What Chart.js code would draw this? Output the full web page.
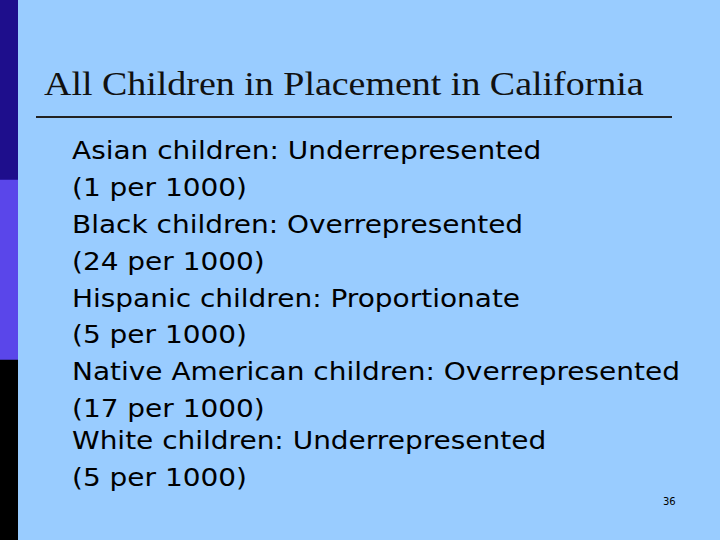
<!DOCTYPE html>
<html><head><meta charset="utf-8">
<script src="https://cdn.jsdelivr.net/npm/chart.js@4"></script>
<style>
html,body{margin:0;padding:0;width:720px;height:540px;overflow:hidden;background:#99ccff;}
#bar{position:absolute;left:0;top:0;width:18px;height:540px;}
#title{position:absolute;left:44px;top:66px;font-family:"Liberation Serif",serif;font-size:33px;color:#111;white-space:nowrap;transform:scaleX(1.15);transform-origin:0 0;}
#rule{position:absolute;left:36px;top:116px;width:636px;height:2px;background:#222;}
#body{position:absolute;left:72px;top:133px;font-family:"DejaVu Sans",sans-serif;font-size:24px;color:#000;transform:scaleX(1.165);transform-origin:0 0;}
#body div{height:36.9px;line-height:36px;white-space:nowrap;}
#pg{position:absolute;left:663px;top:496px;font-family:"DejaVu Sans",sans-serif;font-size:10px;}
</style></head><body>
<div id="bar"><canvas id="c"></canvas></div>
<div id="title">All Children in Placement in California</div>
<div id="rule"></div>
<div id="body"></div>
<div id="pg">36</div>
<script>
const lines = ["Asian children: Underrepresented","(1 per 1000)","Black children: Overrepresented","(24 per 1000)","Hispanic children: Proportionate","(5 per 1000)","Native American children: Overrepresented","(17 per 1000)","White children: Underrepresented","(5 per 1000)"];
const bandLabels = ["band"];
const bandBottom = [1], bandMiddle = [1], bandTop = [1];
const b = document.getElementById('body');
lines.forEach((t,i)=>{const d=document.createElement('div');d.textContent=t;if(i===7)d.style.height='32px';b.appendChild(d);});
new Chart(document.getElementById('c'),{type:'bar',
data:{labels:bandLabels,datasets:[
{data:bandBottom,backgroundColor:'#000000'},
{data:bandMiddle,backgroundColor:'#5a46ea'},
{data:bandTop,backgroundColor:'#1e0e8c'}]},
options:{responsive:true,maintainAspectRatio:false,animation:false,
layout:{padding:0},
datasets:{bar:{barPercentage:1,categoryPercentage:1,borderWidth:0}},
plugins:{legend:{display:false},tooltip:{enabled:false}},
scales:{x:{display:false,stacked:true},y:{display:false,stacked:true,min:0,max:3}}}});
</script></body></html>
